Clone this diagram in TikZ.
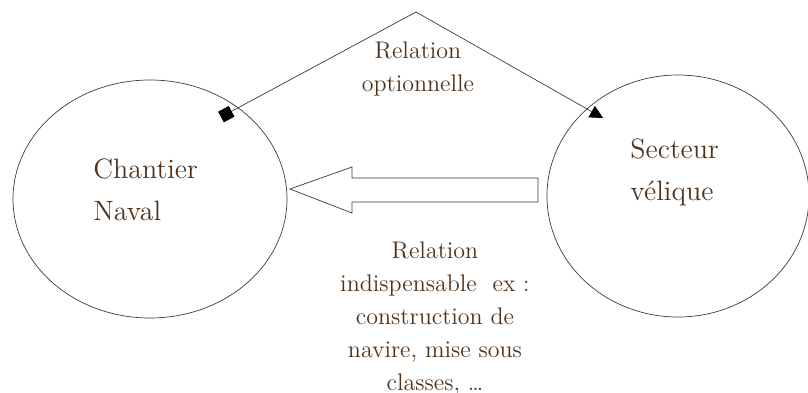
\documentclass[tikz,border=0pt]{standalone}
\usetikzlibrary{arrows.meta,shapes.geometric}
\definecolor{labelbrown}{RGB}{80,50,26}
\definecolor{strokegray}{RGB}{60,60,60}
\begin{document}
\begin{tikzpicture}[x=0.5pt,y=-0.5pt,
  entity/.style={ellipse, draw=strokegray, line width=0.35pt, inner sep=0pt},
  biglabel/.style={text=labelbrown, align=left, inner sep=0pt,
    font=\fontsize{14}{21}\selectfont},
  smalllabel/.style={text=labelbrown, align=center, inner sep=0pt,
    font=\fontsize{12}{16.5}\selectfont},
  link/.style={draw=strokegray, line width=0.35pt},
  bigarrow/.style={draw=strokegray, line width=0.35pt, fill=white}]
\useasboundingbox (0,0) rectangle (808,392);

% the two entities
\node[entity, minimum width=137pt, minimum height=119pt] (cn) at (150,199) {};
\node[entity, minimum width=131pt, minimum height=121pt] (sv) at (678,196) {};

% labels are placed by the baseline of their last line
\node[biglabel, anchor=base west] (cnlabel) at (93,220) {Chantier\\Naval};
\node[biglabel, anchor=base west] (svlabel) at (630,200) {Secteur\\vélique};

% optional relation, over the top
\coordinate (optstart) at (221,117);
\coordinate (peak) at (416,12);
\coordinate (optend) at (603,118);
\draw[link, {Square[length=6pt,width=6pt,color=black]}-{Triangle[length=6.5pt,width=6.5pt,color=black]}]
  (optstart) -- (peak) -- (optend);
\node[smalllabel, anchor=base] (optlabel) at (418,91) {Relation\\optionnelle};

% indispensable relation: hollow block arrow pointing at the yard
\draw[bigarrow] (538,178) -- (352,178) -- (352,167) -- (290,189)
  -- (352,213) -- (352,202) -- (538,202) -- cycle;
\node[smalllabel, anchor=base] (reqlabel) at (435,390)
  {Relation\\indispensable~ ex :\\ construction de\\navire, mise sous\\classes, \dots};
\end{tikzpicture}
\end{document}
